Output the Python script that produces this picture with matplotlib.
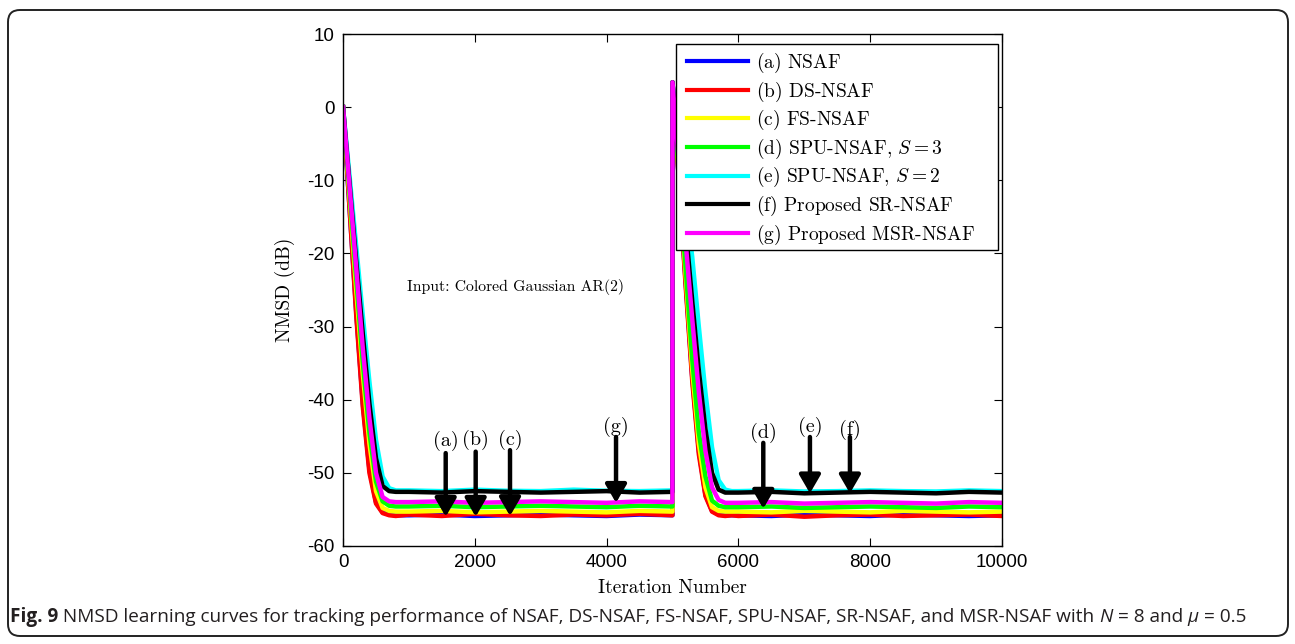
import matplotlib
matplotlib.use("Agg")
import matplotlib.pyplot as plt
from matplotlib.patches import FancyBboxPatch, Rectangle
from matplotlib.transforms import IdentityTransform

plt.rcParams['mathtext.fontset'] = 'cm'
plt.rcParams['axes.unicode_minus'] = False

# iteration grid (shared by every curve)
iterations = [0, 100, 200, 300, 400, 500, 600, 700, 800, 900,
              1000, 1500, 2000, 2500, 3000, 3500, 4000, 4500, 4999,
              5000, 5100, 5200, 5300, 5400, 5500, 5600, 5700, 5800, 5900,
              6000, 6500, 7000, 7500, 8000, 8500, 9000, 9500, 10000]

# NMSD (dB)
nsaf = [0, -14, -28, -40.5, -49.5, -54, -55.4, -55.7, -55.8, -55.8,
        -55.8, -55.7, -55.9, -55.8, -55.7, -55.8, -55.9, -55.7, -55.8,
        3.4, -10.5, -24, -37, -47, -53, -55.2, -55.7, -55.8, -55.8,
        -55.8, -55.9, -55.7, -55.8, -55.9, -55.7, -55.8, -55.9, -55.8]
ds_nsaf = [0, -14, -28.5, -41, -50, -54.2, -55.5, -55.8, -55.9, -55.8,
           -55.7, -55.9, -55.6, -55.8, -55.9, -55.7, -55.8, -55.6, -55.8,
           3.4, -10.5, -24.5, -37.5, -47.5, -53.2, -55.3, -55.8, -55.9, -55.8,
           -55.9, -55.7, -56.0, -55.8, -55.7, -55.9, -55.8, -55.7, -55.9]
fs_nsaf = [0, -12.5, -25, -36.5, -46, -52.5, -54.8, -55.2, -55.3, -55.3,
           -55.3, -55.2, -55.4, -55.3, -55.2, -55.3, -55.4, -55.2, -55.3,
           3.4, -10, -23, -36, -46, -52, -54.7, -55.2, -55.3, -55.3,
           -55.3, -55.4, -55.2, -55.3, -55.4, -55.2, -55.3, -55.4, -55.3]
spu_s3 = [0, -11.8, -23.5, -35, -44.5, -51.2, -53.9, -54.5, -54.6, -54.6,
          -54.6, -54.5, -54.7, -54.6, -54.5, -54.6, -54.7, -54.5, -54.6,
          3.4, -9.5, -22, -34.5, -44.5, -50.5, -53.8, -54.5, -54.7, -54.7,
          -54.7, -54.6, -54.8, -54.7, -54.6, -54.7, -54.8, -54.6, -54.7]
spu_s2 = [0, -9.5, -19, -28.5, -37.5, -45.5, -50.5, -52.1, -52.4, -52.4,
          -52.4, -52.5, -52.3, -52.45, -52.5, -52.3, -52.45, -52.5, -52.4,
          3.4, -5.5, -13, -20.5, -30, -39, -46.5, -51, -52.3, -52.5,
          -52.5, -52.4, -52.55, -52.5, -52.4, -52.5, -52.55, -52.4, -52.5]
sr_nsaf = [0, -10.5, -21, -31, -40.5, -48, -51.8, -52.5, -52.6, -52.6,
           -52.6, -52.7, -52.5, -52.6, -52.7, -52.6, -52.5, -52.7, -52.6,
           3.4, -7, -16.5, -26.5, -36, -44, -50, -52.3, -52.7, -52.7,
           -52.7, -52.6, -52.8, -52.7, -52.6, -52.7, -52.8, -52.6, -52.7]
msr_nsaf = [0, -11, -22, -33, -42.5, -50, -53.3, -53.9, -54.0, -54.0,
            -54.0, -53.9, -54.1, -54.0, -53.9, -54.0, -54.1, -53.9, -54.0,
            3.4, -8, -18.5, -29, -39, -47, -52, -53.7, -54.1, -54.1,
            -54.1, -54.0, -54.2, -54.1, -54.0, -54.1, -54.2, -54.0, -54.1]

curves = [nsaf, ds_nsaf, fs_nsaf, spu_s3, spu_s2, sr_nsaf, msr_nsaf]
# the trailing thin space makes every label go through mathtext (equal row heights)
labels = [r'(a) NSAF$\,$', r'(b) DS-NSAF$\,$', r'(c) FS-NSAF$\,$', r'(d) SPU-NSAF, $S = 3$',
          r'(e) SPU-NSAF, $S = 2$', r'(f) Proposed SR-NSAF$\,$', r'(g) Proposed MSR-NSAF$\,$']
colors = ['#0000ff', '#ff0000', '#ffff00', '#00ff00', '#00ffff', '#000000', '#ff00ff']

# arrow annotations: label, iteration, tail dB, tip dB, label dB
marks = ['(a)', '(b)', '(c)', '(g)', '(d)', '(e)', '(f)']
mark_x = [1558, 2013, 2534, 4143, 6378, 7086, 7693]
mark_tail = [-47.3, -47.1, -46.9, -45.1, -45.9, -45.1, -45.1]
mark_tip = [-56.0, -56.0, -55.9, -54.1, -54.9, -52.8, -52.8]
mark_text = [-45.7, -45.5, -45.5, -43.7, -44.5, -43.7, -44.1]

serif = 'cmr10'
fig = plt.figure(figsize=(12.95, 6.44), dpi=100)
ax = fig.add_axes([0.2649, 0.1522, 0.7737 - 0.2649, 0.9472 - 0.1522])

for vals, lab, col in zip(curves, labels, colors):
    ax.plot(iterations, vals, color=col, lw=3.2, label=lab)

for m, x, t0, t1, ty in zip(marks, mark_x, mark_tail, mark_tip, mark_text):
    ax.annotate('', xy=(x, t1), xytext=(x, t0),
                arrowprops=dict(arrowstyle='-|>,head_length=0.55,head_width=0.32',
                                lw=3.2, color='k', mutation_scale=20,
                                shrinkA=0, shrinkB=0))
    ax.text(x, ty, m, ha='center', va='center', fontsize=14.5, family=serif)

ax.text(2610, -24.6, 'Input: Colored Gaussian AR(2)', ha='center', va='center',
        fontsize=11.3, family=serif)

ax.set_xlim(0, 10000)
ax.set_ylim(-60, 10)
ax.set_xticks(range(0, 10001, 2000))
ax.set_yticks(range(-60, 11, 10))
ax.tick_params(direction='in', length=6, width=0.8, top=True, right=True,
               labelsize=13.5, pad=6)
for lbl in ax.get_xticklabels() + ax.get_yticklabels():
    lbl.set_family('Liberation Sans')
for sp in ax.spines.values():
    sp.set_linewidth(1.0)

ax.set_xlabel('Iteration Number', fontsize=14, family=serif)
ax.set_ylabel('NMSD (dB)', fontsize=14, family=serif)
ax.xaxis.set_label_coords(0.5, -0.064)
ax.yaxis.set_label_coords(-0.073, 0.5)

# legend box drawn separately (MATLAB style wide right margin)
ax.add_patch(Rectangle((0.5053, 0.578), 0.4886, 0.4025, transform=ax.transAxes,
                       facecolor='white', edgecolor='k', lw=1.0, zorder=4.9))
leg = ax.legend(loc='upper left', bbox_to_anchor=(0.5220, 0.967), frameon=False,
                handlelength=3.14, labelspacing=0.23, borderpad=0,
                handletextpad=0.41, borderaxespad=0,
                prop={'family': serif, 'size': 14})
leg.set_zorder(5)
for h in leg.get_lines():
    h.set_linewidth(3)

# rounded frame round the figure and caption
fig.patches.append(FancyBboxPatch((8, 8), 1280, 626,
                                  boxstyle='round,pad=0,rounding_size=12',
                                  transform=IdentityTransform(), fill=False,
                                  edgecolor='#222222', lw=1.4))

cap_parts = [('Fig. 9', 'bold', 'normal'),
             (' NMSD learning curves for tracking performance of NSAF, DS-NSAF, FS-NSAF, '
              'SPU-NSAF, SR-NSAF, and MSR-NSAF with ', 'normal', 'normal'),
             ('N', 'normal', 'italic'), (' = 8 and ', 'normal', 'normal'),
             ('\u03bc', 'normal', 'italic'), (' = 0.5', 'normal', 'normal')]
renderer = fig.canvas.get_renderer()
xpos = 10
for txt, weight, style in cap_parts:
    t = fig.text(xpos / 1295, 1 - 617 / 644, txt, fontsize=13.65, weight=weight,
                 style=style, family='Open Sans', color='#231f20', va='center',
                 ha='left')
    bb = t.get_window_extent(renderer=renderer)
    xpos += bb.width

fig.savefig('out.png', dpi=100)
